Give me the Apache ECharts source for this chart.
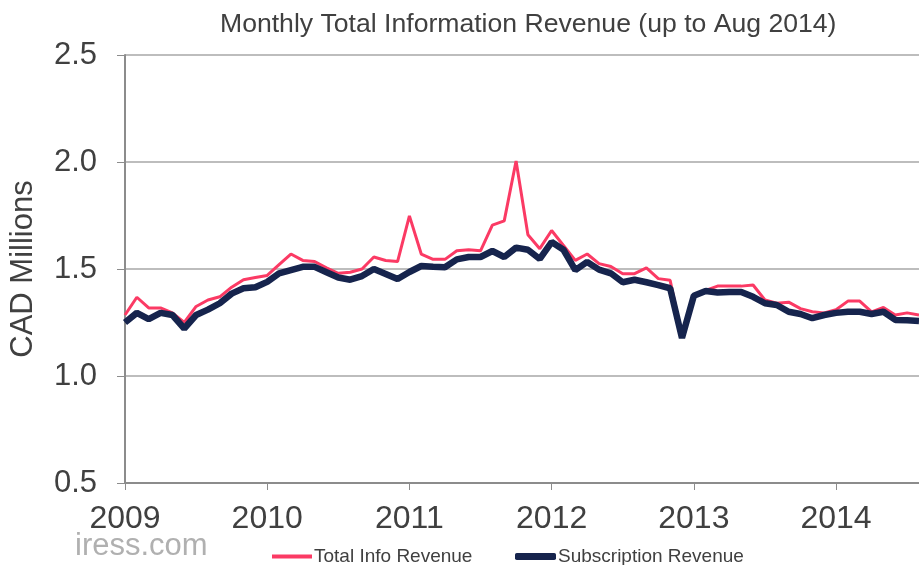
<!DOCTYPE html>
<html>
<head>
<meta charset="utf-8">
<script src="https://cdn.jsdelivr.net/npm/echarts@6/dist/echarts.min.js"></script>
<style>
  html, body { margin: 0; padding: 0; background: #fff; }
  #chart { width: 919px; height: 565px; }
</style>
</head>
<body>
<div id="chart"></div>
<script>
// monthly points, Jan 2009 .. Aug 2014
var years = ["2009", "2010", "2011", "2012", "2013", "2014"];
var yTicks = [0.5, 1.0, 1.5, 2.0, 2.5];

var totalInfo = [
  // 2009
  1.285, 1.368, 1.318, 1.318, 1.295, 1.25, 1.325, 1.355, 1.37, 1.415, 1.45, 1.46,
  // 2010
  1.47, 1.52, 1.57, 1.54, 1.535, 1.505, 1.48, 1.485, 1.50, 1.556, 1.54, 1.535,
  // 2011
  1.748, 1.57, 1.545, 1.545, 1.585, 1.59, 1.585, 1.705, 1.725, 2.005, 1.66, 1.595,
  // 2012
  1.68, 1.61, 1.54, 1.57, 1.525, 1.512, 1.478, 1.478, 1.505, 1.455, 1.447, 1.185,
  // 2013
  1.375, 1.40, 1.42, 1.42, 1.42, 1.425, 1.355, 1.34, 1.345, 1.315, 1.30, 1.295,
  // 2014
  1.31, 1.35, 1.35, 1.30, 1.32, 1.285, 1.295, 1.285
];

var subscription = [
  // 2009
  1.25, 1.295, 1.266, 1.295, 1.285, 1.222, 1.285, 1.31, 1.34, 1.385, 1.41, 1.415,
  // 2010
  1.44, 1.48, 1.495, 1.51, 1.51, 1.485, 1.46, 1.45, 1.467, 1.50, 1.477, 1.453,
  // 2011
  1.486, 1.514, 1.51, 1.508, 1.545, 1.556, 1.556, 1.584, 1.556, 1.60, 1.59, 1.547,
  // 2012
  1.626, 1.59, 1.495, 1.533, 1.497, 1.48, 1.438, 1.45, 1.438, 1.425, 1.41, 1.178,
  // 2013
  1.375, 1.397, 1.39, 1.393, 1.393, 1.37, 1.34, 1.332, 1.30, 1.29, 1.27, 1.285,
  // 2014
  1.295, 1.30, 1.30, 1.29, 1.30, 1.262, 1.26, 1.257
];

// one category per month, label only on January
var months = [];
for (var i = 0; i < totalInfo.length; i++) {
  months.push(i % 12 === 0 ? years[i / 12] : "");
}

var textColor = "#404040";
var font = "Arial, 'Liberation Sans', sans-serif";

var chart = echarts.init(document.getElementById("chart"));
chart.setOption({
  animation: false,
  title: {
    text: "Monthly Total Information Revenue (up to Aug 2014)",
    left: 215,
    top: 6,
    textStyle: { fontFamily: font, fontSize: 26.6, fontWeight: "normal", color: textColor }
  },
  legend: [
    {
      data: [{ name: "Total Info Revenue", icon: "rect" }],
      left: 267,
      top: 542,
      itemWidth: 40,
      itemHeight: 4,
      textStyle: { fontFamily: font, fontSize: 19, color: textColor, padding: [0, 0, 0, -3] }
    },
    {
      data: [{ name: "Subscription Revenue", icon: "roundRect" }],
      left: 510,
      top: 542,
      itemWidth: 41,
      itemHeight: 7,
      textStyle: { fontFamily: font, fontSize: 19, color: textColor, padding: [0, 0, 0, -3] }
    }
  ],
  graphic: [
    {
      type: "text",
      left: 75,
      top: 531,
      style: { text: "iress.com", fontFamily: font, fontSize: 31, fill: "#b0b0b0" }
    }
  ],
  grid: { left: 125, right: 0, top: 55, bottom: 82 },
  xAxis: {
    type: "category",
    data: months,
    boundaryGap: false,
    axisLine: { lineStyle: { color: "#8c8c8c", width: 2 } },
    axisTick: {
      interval: function (idx) { return idx % 12 === 0; },
      length: 7,
      lineStyle: { color: "#8c8c8c", width: 1 }
    },
    axisLabel: {
      interval: function (idx) { return idx % 12 === 0; },
      fontFamily: font,
      fontSize: 32,
      color: textColor,
      margin: 20
    },
    splitLine: { show: false }
  },
  yAxis: {
    type: "value",
    min: yTicks[0],
    max: yTicks[yTicks.length - 1],
    interval: 0.5,
    name: "CAD Millions",
    nameLocation: "middle",
    nameGap: 86,
    nameTextStyle: { fontFamily: font, fontSize: 31, color: textColor },
    axisLine: { show: true, lineStyle: { color: "#8c8c8c", width: 2 } },
    axisTick: { show: true, length: 8, lineStyle: { color: "#8c8c8c", width: 1 } },
    axisLabel: {
      fontFamily: font,
      fontSize: 31,
      color: textColor,
      margin: 28,
      formatter: function (v) { return v.toFixed(1); }
    },
    splitLine: { lineStyle: { color: "#bdbdbd", width: 2 } }
  },
  series: [
    {
      name: "Total Info Revenue",
      type: "line",
      data: totalInfo,
      symbol: "none",
      z: 2,
      itemStyle: { color: "#fb3a64" },
      lineStyle: { color: "#fb3a64", width: 3 }
    },
    {
      name: "Subscription Revenue",
      type: "line",
      data: subscription,
      symbol: "none",
      z: 3,
      itemStyle: { color: "#16244d" },
      lineStyle: { color: "#16244d", width: 6.5 }
    }
  ]
});
</script>
</body>
</html>
